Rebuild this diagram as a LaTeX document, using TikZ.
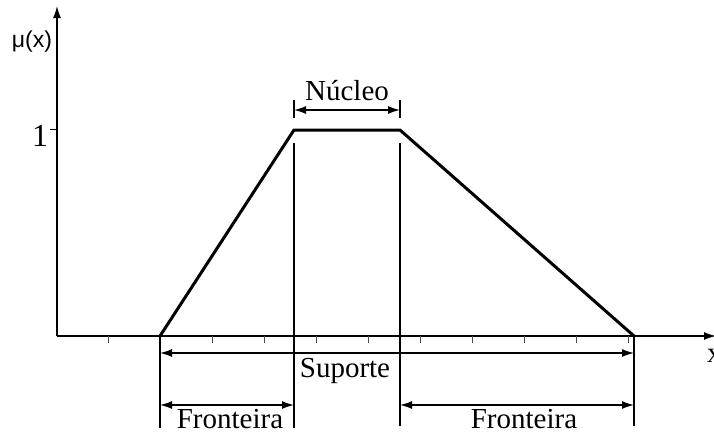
\documentclass[tikz,border=0pt]{standalone}
\usepackage{fontspec}
\setmainfont{Liberation Serif}
\newfontfamily\axisfont{Liberation Sans}
\usetikzlibrary{arrows.meta}
\begin{document}
\begin{tikzpicture}[x=1pt,y=-1pt,
 axis/.style={line width=1.4pt,-{Latex[length=12pt,width=8pt]}},
 curve/.style={line width=3pt,line join=miter},
 guide/.style={line width=1.2pt},
 tick/.style={line width=0.9pt,draw=black!70},
 dim/.style={line width=1.4pt,{Latex[length=12pt,width=8pt]}-{Latex[length=12pt,width=8pt]}},
 lbl/.style={font=\fontsize{29}{30}\selectfont,inner sep=0pt,anchor=base},
]
\useasboundingbox (0,0) rectangle (714,434);
% axes
\coordinate (O) at (57,336);
\coordinate (ytop) at (57,6);
\coordinate (xend) at (716,336);
\draw[axis] (O) -- (ytop);
\draw[axis] (O) -- (xend);
\node[inner sep=0pt,anchor=base,font=\axisfont\fontsize{23}{24}\selectfont] (mu) at (32,47) {μ(x)};
\node[lbl,anchor=base west] (xl) at (707,362) {x};
% y tick and label
\coordinate (yt) at (57,129);
\coordinate (ytl) at (50,129);
\draw[tick,draw=black] (yt) -- (ytl);
\node[inner sep=0pt,anchor=base,font=\fontsize{32}{33}\selectfont] (one) at (40,146) {1};
% x ticks
\foreach \i in {0,...,10}{
  \coordinate (t\i) at ({108+52*\i},336);
  \coordinate (tb\i) at ({108+52*\i},343);
  \draw[tick] (t\i) -- (tb\i);
}
% trapezoid
\coordinate (A) at (160,336);
\coordinate (B) at (294,130);
\coordinate (C) at (400,130);
\coordinate (D) at (634,336);
\draw[curve] (A) -- (B) -- (C) -- (D);
% guide lines
\coordinate (A2) at (160,428);
\coordinate (B1) at (294,143);
\coordinate (B2) at (294,428);
\coordinate (C1) at (400,143);
\coordinate (C2) at (400,426);
\coordinate (D2) at (634,426);
\coordinate (Bt) at (294,100);
\coordinate (Bb) at (294,118);
\coordinate (Ct) at (400,100);
\coordinate (Cb) at (400,118);
\draw[guide] (A) -- (A2);
\draw[guide] (B1) -- (B2);
\draw[guide] (C1) -- (C2);
\draw[guide] (D) -- (D2);
\draw[guide] (Bt) -- (Bb);
\draw[guide] (Ct) -- (Cb);
% dimension arrows
\coordinate (n1) at (294,110);
\coordinate (n2) at (400,110);
\draw[dim] (n1) -- (n2);
\node[lbl] (nucleo) at (347,100) {Núcleo};
\coordinate (s1) at (160,353);
\coordinate (s2) at (634,353);
\draw[dim] (s1) -- (s2);
\node[lbl] (suporte) at (345,377) {Suporte};
\coordinate (f1) at (160,405);
\coordinate (f2) at (294,405);
\draw[dim] (f1) -- (f2);
\node[lbl] (fron1) at (230,428) {Fronteira};
\coordinate (g1) at (400,405);
\coordinate (g2) at (634,405);
\draw[dim] (g1) -- (g2);
\node[lbl] (fron2) at (524,428) {Fronteira};
\end{tikzpicture}
\end{document}
